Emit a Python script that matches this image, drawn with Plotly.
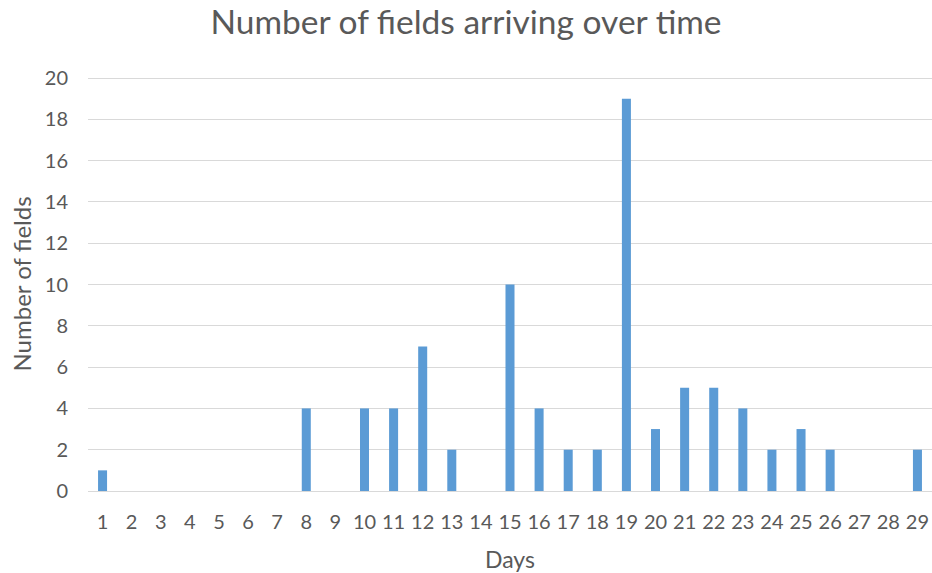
import plotly.graph_objects as go

days = [str(d) for d in range(1, 30)]
fields = [1, 0, 0, 0, 0, 0, 0, 4, 0, 4, 4, 7, 2, 0, 10, 4, 2, 2, 19, 3, 5, 5, 4, 2, 3, 2, 0, 0, 2]
y_ticks = list(range(0, 21, 2))

fig = go.Figure(go.Bar(x=days, y=fields, marker_color="#5b9bd5", marker_line_width=0))

font_family = "Lato, 'Open Sans', sans-serif"
fig.update_layout(
    width=932, height=573,
    margin=dict(l=88, r=0, t=77, b=82),
    paper_bgcolor="white", plot_bgcolor="white",
    bargap=0.69,
    font=dict(family=font_family, color="#595959", size=20),
    title=dict(text="Number of fields arriving over time", x=0.5, xanchor="center",
               y=0.961, yanchor="middle", font=dict(size=33.5, color="#595959")),
    xaxis=dict(type="category", showgrid=False, showline=True, linecolor="#d9d9d9",
               ticks="", ticklabelstandoff=13,
               title=dict(text="Days", font=dict(size=23), standoff=20)),
    yaxis=dict(range=[0, 20.05], tickvals=y_ticks, showgrid=True, gridcolor="#d9d9d9",
               zeroline=False, ticks="", ticklabelstandoff=19,
               title=dict(text="Number of fields", font=dict(size=24), standoff=6)),
)

fig.write_html(
    "out.html",
    config={"displayModeBar": False},
    post_script="document.body.style.margin='0';document.body.style.overflow='hidden';",
)
